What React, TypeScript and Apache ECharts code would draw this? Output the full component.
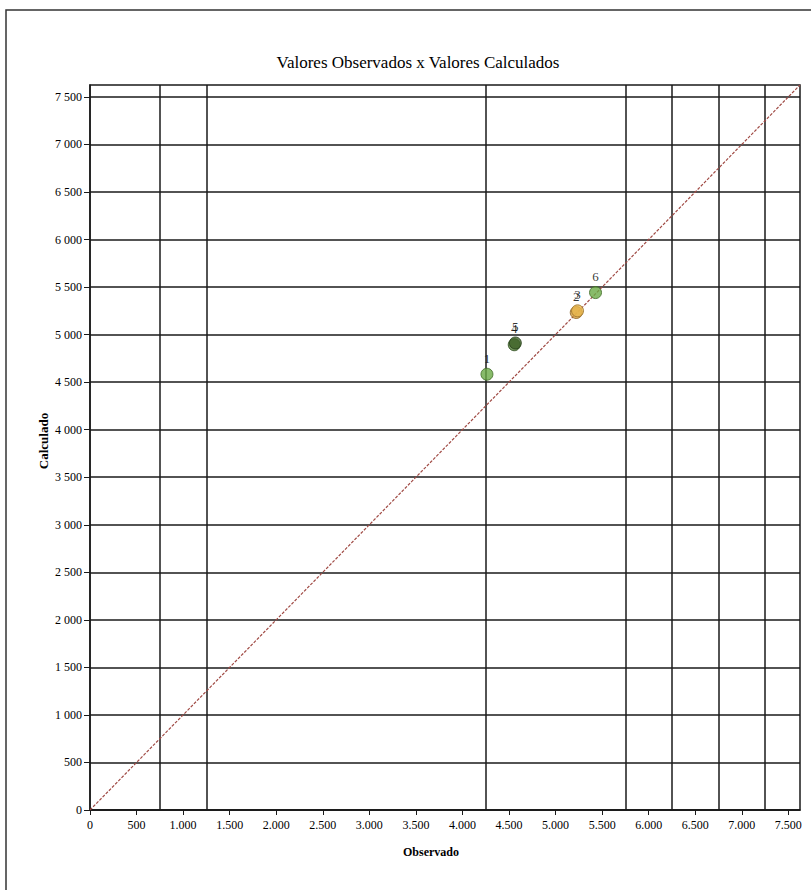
import React, { useEffect, useRef } from "react";
import * as echarts from "echarts";

const titleText = "Valores Observados x Valores Calculados";
const xName = "Observado";
const yName = "Calculado";

const pointIds = ["1", "2", "3", "4", "5", "6"];
const observed = [4263, 5222, 5236, 4556, 4568, 5429];
const calculated = [4583, 5232, 5250, 4893, 4912, 5442];

const axisMax = 7625;
const tickStep = 500;
const xTickLabels = ["0", "500", "1.000", "1.500", "2.000", "2.500", "3.000", "3.500", "4.000", "4.500", "5.000", "5.500", "6.000", "6.500", "7.000", "7.500"];
const yTickLabels = ["0", "500", "1 000", "1 500", "2 000", "2 500", "3 000", "3 500", "4 000", "4 500", "5 000", "5 500", "6 000", "6 500", "7 000", "7 500"];
const xGridValues = [750, 1250, 4250, 5750, 6250, 6750, 7250];

const pointColors = ["#6aaa45", "#d9a040", "#e6b54c", "#4f7a33", "#3f6228", "#6aaa45"];
const pointBorders = ["#3e6a25", "#8a6020", "#9a7028", "#2c4a1c", "#27401a", "#3e6a25"];

const FONT = "'Liberation Serif', 'Times New Roman', serif";

function labelFor(list: string[]) {
  return (v: number) => {
    if (v % tickStep !== 0) return "";
    const i = v / tickStep;
    return list[i] ?? "";
  };
}

export default function App() {
  const ref = useRef<HTMLDivElement>(null);
  useEffect(() => {
    if (!ref.current) return;
    const chart = echarts.init(ref.current, null, { renderer: "svg" });
    const xTickValues = xTickLabels.map((_, i) => i * tickStep);
    const yTickValues = yTickLabels.map((_, i) => i * tickStep);
    const scatterData = pointIds.map((id, i) => ({
      value: [observed[i], calculated[i]],
      name: id,
      itemStyle: { color: pointColors[i], borderColor: pointBorders[i], borderWidth: 1 },
    }));
    chart.setOption({
      animation: false,
      backgroundColor: "#fff",
      grid: {
        left: 90,
        top: 85,
        right: 11,
        bottom: 80,
        show: true,
        borderColor: "#1a1a1a",
        borderWidth: 1.5,
        backgroundColor: "transparent",
      },
      xAxis: {
        type: "value",
        min: 0,
        max: axisMax,
        interval: tickStep,
        axisLine: { show: true, lineStyle: { color: "#1a1a1a", width: 1.5 } },
        axisTick: { show: true, length: 5, customValues: xTickValues, lineStyle: { color: "#1a1a1a", width: 1 } },
        splitLine: { show: false },
        axisLabel: {
          formatter: labelFor(xTickLabels),
          customValues: xTickValues,
          color: "#000",
          fontFamily: FONT,
          fontSize: 12,
          margin: 9,
        },
      },
      yAxis: {
        type: "value",
        min: 0,
        max: axisMax,
        interval: tickStep,
        axisLine: { show: true, lineStyle: { color: "#1a1a1a", width: 1.5 } },
        axisTick: { show: true, length: 6, customValues: yTickValues, lineStyle: { color: "#1a1a1a", width: 1 } },
        splitLine: { show: true, lineStyle: { color: "#1a1a1a", width: 1.5 } },
        axisLabel: {
          formatter: labelFor(yTickLabels),
          customValues: yTickValues,
          color: "#000",
          fontFamily: FONT,
          fontSize: 12,
          margin: 8,
        },
      },
      graphic: [
        {
          type: "rect",
          shape: { x: 6, y: 10, width: 1000, height: 1000 },
          style: { fill: "none", stroke: "#333", lineWidth: 1.5 },
          silent: true,
          z: 0,
        },
        {
          type: "text",
          x: 418,
          y: 62,
          style: {
            text: titleText,
            fontFamily: FONT,
            fontSize: 17,
            fill: "#000",
            align: "center",
            verticalAlign: "middle",
          },
        },
        {
          type: "text",
          x: 431,
          y: 852,
          style: {
            text: xName,
            fontFamily: FONT,
            fontSize: 12,
            fontWeight: "bold",
            fill: "#000",
            align: "center",
            verticalAlign: "middle",
          },
        },
        {
          type: "text",
          x: 43,
          y: 441,
          rotation: Math.PI / 2,
          style: {
            text: yName,
            fontFamily: FONT,
            fontSize: 13,
            fontWeight: "bold",
            fill: "#000",
            align: "center",
            verticalAlign: "middle",
          },
        },
      ],
      series: [
        {
          type: "line",
          data: [
            [0, 0],
            [axisMax, axisMax],
          ],
          symbol: "none",
          silent: true,
          color: "#a04a44",
          lineStyle: { color: "#a04a44", width: 1.2, type: [3, 1.5] },
          z: 3,
          markLine: {
            silent: true,
            symbol: ["none", "none"],
            label: { show: false },
            lineStyle: { color: "#1a1a1a", width: 1.5, type: "solid" },
            data: xGridValues.map((v) => ({ xAxis: v })),
            z: 2,
          },
        },
        {
          type: "scatter",
          data: scatterData,
          symbol: "circle",
          symbolSize: 12,
          z: 5,
          label: {
            show: true,
            position: "top",
            distance: 3,
            formatter: (p: any) => p.name,
            color: "#000",
            fontFamily: FONT,
            fontSize: 13,
          },
          labelLayout: { hideOverlap: false },
        },
      ],
    });
    return () => chart.dispose();
  }, []);
  return (
    <div
      ref={ref}
      style={{ position: "absolute", left: 0, top: 0, width: 811, height: 890 }}
    />
  );
}
